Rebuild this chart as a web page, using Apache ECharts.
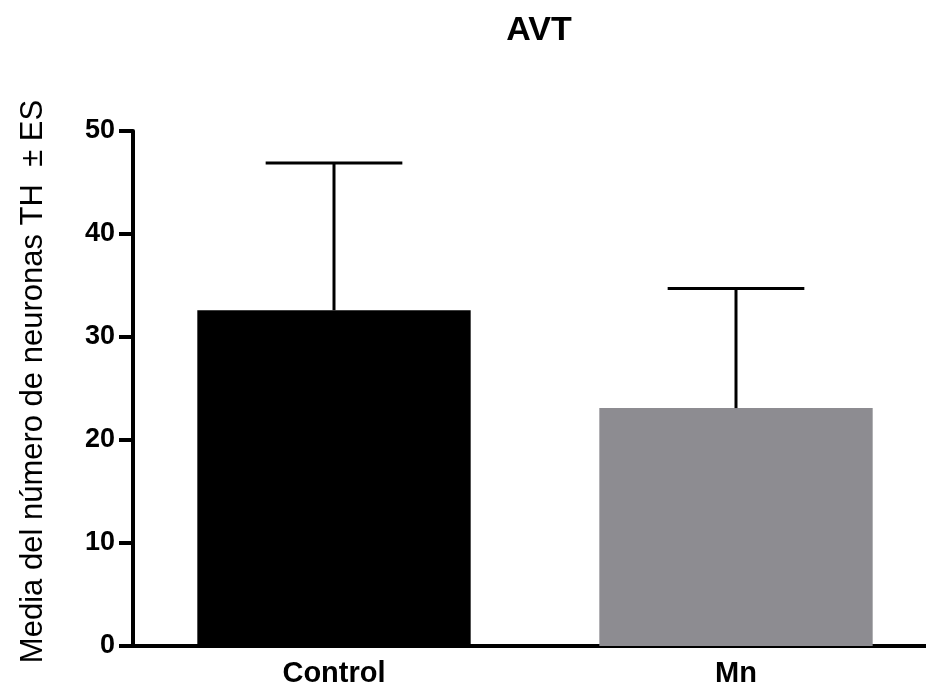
<!DOCTYPE html>
<html><head><meta charset="utf-8">
<script src="https://cdn.jsdelivr.net/npm/echarts@6/dist/echarts.min.js"></script>
<style>html,body{margin:0;padding:0;background:#fff}#c{width:926px;height:696px}</style>
</head><body><div id="c"></div>
<script>
var categories = ['Control', 'Mn'];
var means = [32.6, 23.1];
var errors = [14.3, 11.6];
var barColors = ['#000000', '#8d8c91'];
var yTicks = [0, 10, 20, 30, 40, 50];

var chart = echarts.init(document.getElementById('c'));
var F = '"Liberation Sans", Arial, sans-serif';
chart.setOption({
  animation: false,
  title: {text: 'AVT', left: 534, textAlign: 'center', top: 9,
    textStyle: {fontFamily: F, fontWeight: 'bold', fontSize: 34, color: '#000'}},
  grid: {left: 133, width: 804, top: 131, height: 515, outerBoundsMode: 'none', containLabel: false},
  xAxis: {type: 'category', data: categories,
    axisLine: {lineStyle: {color: '#000', width: 4}},
    axisTick: {alignWithLabel: true, length: 14, lineStyle: {color: '#000', width: 4}},
    axisLabel: {fontFamily: F, fontWeight: 'bold', fontSize: 29, color: '#000', margin: 13}},
  yAxis: {type: 'value', min: 0, max: 50, interval: 10,
    name: 'Media del número de neuronas TH  ± ES', nameLocation: 'middle', nameGap: 84,
    nameTextStyle: {fontFamily: F, fontSize: 31, color: '#000', padding: [0, 0, 0, 14]},
    axisLine: {show: true, lineStyle: {color: '#000', width: 4}},
    axisTick: {show: true, length: 14, lineStyle: {color: '#000', width: 4}},
    splitLine: {show: false},
    axisLabel: {fontFamily: F, fontWeight: 'bold', fontSize: 27, color: '#000', margin: 18,
      formatter: function (v) { return yTicks.indexOf(v) >= 0 ? String(v) : ''; }}},
  series: [
    {type: 'bar', barWidth: '68%',
      data: means.map(function (v, i) { return {value: v, itemStyle: {color: barColors[i]}}; })},
    {type: 'custom', z: 5,
      data: means.map(function (v, i) { return [i, v, v + errors[i]]; }),
      renderItem: function (params, api) {
        var lo = api.coord([api.value(0), api.value(1)]);
        var hi = api.coord([api.value(0), api.value(2)]);
        var half = api.size([1, 0])[0] * 0.17;
        var st = {stroke: '#000', lineWidth: 3};
        return {type: 'group', children: [
          {type: 'line', shape: {x1: lo[0], y1: lo[1], x2: hi[0], y2: hi[1]}, style: st},
          {type: 'line', shape: {x1: hi[0] - half, y1: hi[1], x2: hi[0] + half, y2: hi[1]}, style: st}
        ]};
      }}
  ]
});
</script></body></html>
